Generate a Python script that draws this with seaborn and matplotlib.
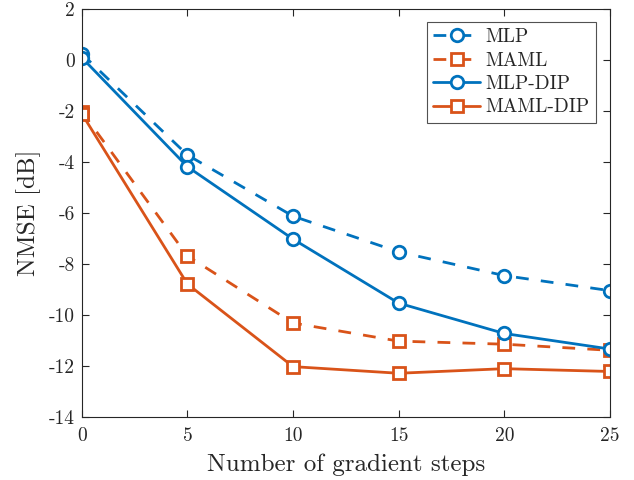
import matplotlib
matplotlib.use("Agg")
import matplotlib.pyplot as plt
import seaborn as sns
import pandas as pd

# Gradient steps and NMSE (dB) per method
steps = [0, 5, 10, 15, 20, 25]
mlp = [0.25, -3.72, -6.12, -7.52, -8.45, -9.04]
maml = [-2.02, -7.68, -10.31, -11.02, -11.14, -11.38]
mlp_dip = [0.1, -4.18, -7.02, -9.53, -10.72, -11.33]
maml_dip = [-2.1, -8.78, -12.02, -12.28, -12.1, -12.21]

x_ticks = [0, 5, 10, 15, 20, 25]
y_ticks = [-14, -12, -10, -8, -6, -4, -2, 0, 2]

sns.set_theme(style="white")
plt.rcParams["font.family"] = ["cmr10", "DejaVu Serif"]
plt.rcParams["mathtext.fontset"] = "cm"
plt.rcParams["axes.unicode_minus"] = False
plt.rcParams["axes.formatter.use_mathtext"] = True

BLUE = "#0072BD"
ORANGE = "#D95319"

fig = plt.figure(figsize=(6.34, 4.8), dpi=100)
ax = fig.add_axes([0.129, 0.131, 0.833, 0.850])

series = [
    ("MLP", mlp, BLUE, "o", (4.6, 4.4)),
    ("MAML", maml, ORANGE, "s", (4.6, 4.4)),
    ("MLP-DIP", mlp_dip, BLUE, "o", None),
    ("MAML-DIP", maml_dip, ORANGE, "s", None),
]

for name, vals, color, marker, dash in series:
    df = pd.DataFrame({"step": steps, "nmse": vals})
    msize = 9.0 if marker == "o" else 8.0
    sns.lineplot(
        data=df, x="step", y="nmse", ax=ax, color=color, label=name,
        marker=marker, markersize=msize, markerfacecolor="white",
        markeredgecolor=color, markeredgewidth=2.0, linewidth=2.0,
    )
    if dash is not None:
        ax.lines[-1].set_dashes(dash)

ax.set_xlim(0, 25)
ax.set_ylim(-14, 2)
ax.set_xticks(x_ticks)
ax.set_yticks(y_ticks)
ax.set_xticklabels([str(t) for t in x_ticks])
ax.set_yticklabels([str(t) for t in y_ticks])

ax.set_xlabel("Number of gradient steps", fontsize=18, color="#262626",
              labelpad=6)
ax.set_ylabel("NMSE [dB]", fontsize=18, color="#262626", labelpad=6)

for side in ["top", "right", "bottom", "left"]:
    ax.spines[side].set_visible(True)
    ax.spines[side].set_color("#262626")
    ax.spines[side].set_linewidth(0.8)

ax.tick_params(axis="both", which="both", direction="in", length=5,
               width=0.8, color="#262626", labelsize=14, labelcolor="#262626",
               top=True, right=True, bottom=True, left=True)
ax.tick_params(axis="x", pad=7.5)
ax.tick_params(axis="y", pad=5)

leg = ax.legend(loc="upper right", bbox_to_anchor=(0.9735, 0.9695),
                fontsize=14, frameon=True, fancybox=False,
                handlelength=2.4, handletextpad=0.25, borderpad=0.35,
                labelspacing=0.28, borderaxespad=0.0)
leg.get_frame().set_edgecolor("#262626")
leg.get_frame().set_linewidth(0.8)

fig.savefig("out.png", dpi=100)
